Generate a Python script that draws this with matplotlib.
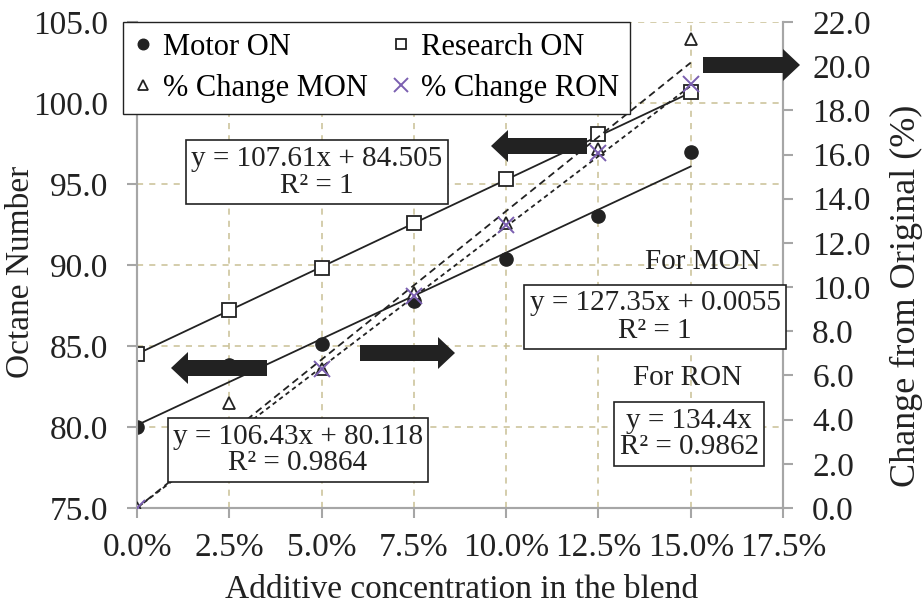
import numpy as np
import matplotlib.pyplot as plt
import matplotlib.patches as mpatches
from matplotlib.transforms import IdentityTransform
from matplotlib.ticker import FuncFormatter, MultipleLocator

plt.rcParams['font.family'] = ['Liberation Serif', 'DejaVu Serif']
plt.rcParams['font.size'] = 21

### Data
conc = [0.0, 0.025, 0.05, 0.075, 0.10, 0.125, 0.15]
motor_on = [80.0, 83.8, 85.1, 87.8, 90.4, 93.0, 97.0]
research_on = [84.5, 87.2, 89.8, 92.6, 95.3, 98.1, 100.7]
change_mon = [0.0, 4.75, 6.3, 9.75, 12.9, 16.25, 21.25]
change_ron = [0.0, 3.2, 6.3, 9.6, 12.8, 16.05, 19.2]

# trendline coefficients (slope, intercept) as printed on the chart
fit_motor = (106.43, 80.118)
fit_research = (107.61, 84.505)
fit_mon = (127.35, 0.0055)
fit_ron = (134.4, 0.0)

W, H = 922, 613
GRID = '#c9c095'
SPINE = '#a6a6a6'
INK = '#222222'
PURPLE = '#7b5fb0'


def fx(px):
    return px / W


def fy(py):
    return 1 - py / H


fig = plt.figure(figsize=(W / 100, H / 100), dpi=100)
ax = fig.add_axes([fx(137), fy(508), fx(783) - fx(137), fy(22) - fy(508)])
ax2 = ax.twinx()

xs = np.array([conc[0], conc[-1]])

# primary axis: octane numbers
ax.plot(xs, fit_motor[0] * xs + fit_motor[1], color=INK, lw=1.3, zorder=2)
ax.plot(xs, fit_research[0] * xs + fit_research[1], color=INK, lw=1.3, zorder=2)
h1, = ax.plot(conc, motor_on, 'o', color=INK, ms=9.5, ls='none', zorder=3,
              label='Motor ON')
h2, = ax.plot(conc, research_on, 's', mfc='white', mec=INK, mew=1.3, ms=9.5,
              ls='none', zorder=3, label='Research ON')

# secondary axis: % change
ax2.plot(xs, fit_ron[0] * xs + fit_ron[1], color=INK, lw=1.3, ls=(0, (4, 2.5)),
         zorder=2)
ax2.plot(xs, fit_mon[0] * xs + fit_mon[1], color=INK, lw=1.3, ls=(0, (2.5, 2)),
         zorder=2)
h3, = ax2.plot(conc, change_mon, '^', mfc='white', mec=INK, mew=1.3, ms=9,
               ls='none', zorder=3, label='% Change MON')
h4, = ax2.plot(conc, change_ron, 'x', color=PURPLE, mew=1.4, ms=12, ls='none',
               zorder=4, label='% Change RON')

ax.set_xlim(0, 0.175)
ax.set_ylim(75, 105)
ax2.set_ylim(0, 22)
ax.xaxis.set_major_locator(MultipleLocator(0.025))
ax.yaxis.set_major_locator(MultipleLocator(5))
ax2.yaxis.set_major_locator(MultipleLocator(2))
ax.xaxis.set_major_formatter(FuncFormatter(lambda v, p: f'{v * 100:.1f}%'))
ax.yaxis.set_major_formatter(FuncFormatter(lambda v, p: f'{v:.1f}'))
ax2.yaxis.set_major_formatter(FuncFormatter(lambda v, p: f'{v:.1f}'))

ax.grid(True, color=GRID, ls=(0, (4, 4)), lw=1.1)
ax.set_axisbelow(True)
for a in (ax, ax2):
    a.spines['top'].set_visible(False)
    for s in ('left', 'right', 'bottom'):
        a.spines[s].set_color(SPINE)
        a.spines[s].set_linewidth(1.5)
    a.tick_params(colors=SPINE, labelcolor=INK, length=7, width=1.5, pad=14,
                  labelsize=24)
ax.tick_params(axis='x', pad=11)
ax.patch.set_visible(False)

fig.text(fx(21), fy(272), 'Octane Number', rotation=90, ha='center',
         va='center', color=INK, fontsize=24)
fig.text(fx(906), fy(296), 'Change from Original (%)', rotation=90,
         ha='center', va='center', color=INK, fontsize=26)
fig.text(fx(462), fy(590), 'Additive concentration in the blend', ha='center',
         va='center', color=INK, fontsize=24)

leg = fig.legend([h1, h3, h2, h4],
                 ['Motor ON', '% Change MON', 'Research ON', '% Change RON'],
                 ncol=2, loc='upper left', bbox_to_anchor=(fx(123), fy(22)),
                 borderaxespad=0, fancybox=False, framealpha=1,
                 edgecolor=INK, handlelength=0.6, handletextpad=0.35,
                 columnspacing=0.8, borderpad=0.35, labelspacing=0.4,
                 markerscale=0.8, fontsize=22)
leg.get_frame().set_linewidth(1.0)

box = dict(boxstyle='square,pad=0.18', fc='white', ec=INK, lw=1.2)
fig.text(fx(317), fy(172), 'y = 107.61x + 84.505\nR² = 1', ha='center',
         va='center', ma='center', bbox=box, linespacing=1.05, color=INK)
fig.text(fx(298), fy(450), 'y = 106.43x + 80.118\nR² = 0.9864', ha='center',
         va='center', ma='center', bbox=box, linespacing=1.05, color=INK)
fig.text(fx(703), fy(262), 'For MON', ha='center', va='center', color=INK)
fig.text(fx(655), fy(317), 'y = 127.35x + 0.0055\nR² = 1', ha='center',
         va='center', ma='center', bbox=box, linespacing=1.05, color=INK)
fig.text(fx(688), fy(378), 'For RON', ha='center', va='center', color=INK)
fig.text(fx(689), fy(434), 'y = 134.4x\nR² = 0.9862', ha='center',
         va='center', ma='center', bbox=box, linespacing=1.05, color=INK)

# block arrows pointing to the relevant axis (pixel positions: tail, tip, y)
arrows = [(267, 171, 368), (360, 455, 353), (587, 491, 146), (703, 800, 65)]
for tail, tip, y in arrows:
    fig.add_artist(mpatches.FancyArrow(
        tail, H - y, tip - tail, 0, width=16, head_width=32, head_length=17,
        length_includes_head=True, transform=IdentityTransform(),
        color=INK, lw=0, zorder=10))

fig.savefig('out.png', dpi=100)
